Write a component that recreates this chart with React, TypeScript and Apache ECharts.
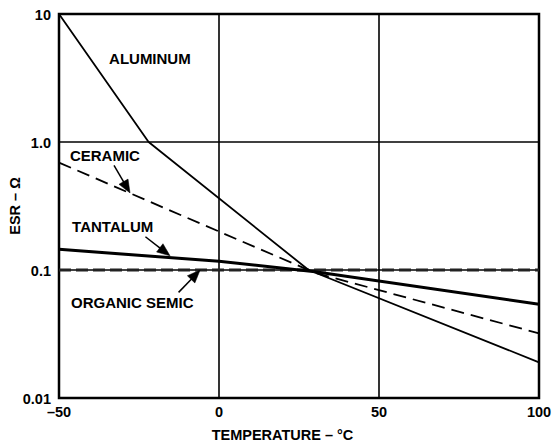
import React, { useEffect, useRef } from "react";
import * as echarts from "echarts";

// Data (temperature in °C, ESR in Ω)
const aluminumX = [-50, -22, 28, 100];
const aluminumY = [10, 1.0, 0.1, 0.019];
const ceramicX = [-50, 30, 100];
const ceramicY = [0.69, 0.095, 0.032];
const tantalumX = [-50, 0, 30, 100];
const tantalumY = [0.145, 0.117, 0.097, 0.054];
const organicX = [-50, 100];
const organicY = [0.1, 0.1];

const xMin = -50;
const xMax = 100;
const xInterval = 50;
const yMin = 0.01;
const yMax = 10;
const yTickValues = [10, 1, 0.1, 0.01];
const yTickLabels = ["10", "1.0", "0.1", "0.01"];

// Annotation labels and arrows, in data coordinates
const labelTexts = ["ALUMINUM", "CERAMIC", "TANTALUM", "ORGANIC SEMIC"];
const labelX = [-21.6, -46.6, -45.9, -46.25];
const labelY = [4.53, 0.79, 0.217, 0.0555];
const labelAlign = ["center", "left", "left", "left"];

const arrowFromX = [-32.5, -22.5, -12.2];
const arrowFromY = [0.638, 0.178, 0.0686];
const arrowToX = [-27.8, -15.3, -5.9];
const arrowToY = [0.4, 0.129, 0.1];

const FONT = 'Arial, "Liberation Sans", sans-serif';

function zip(xs: number[], ys: number[]) {
  return xs.map((x, i) => [x, ys[i]]);
}

export default function App() {
  const ref = useRef<HTMLDivElement>(null);

  useEffect(() => {
    document.body.style.margin = "0";
    if (!ref.current) return;
    const chart = echarts.init(ref.current, undefined, { renderer: "svg" });

    const option: any = {
      animation: false,
      backgroundColor: "#fff",
      grid: {
        left: 59,
        top: 14,
        width: 480,
        height: 384,
        show: true,
        borderColor: "#000",
        borderWidth: 2.5,
        containLabel: false,
        outerBoundsMode: "none",
      },
      xAxis: {
        type: "value",
        min: xMin,
        max: xMax,
        interval: xInterval,
        name: "TEMPERATURE – °C",
        nameLocation: "middle",
        nameGap: 29,
        nameTextStyle: {
          fontFamily: FONT,
          fontWeight: "bold",
          fontSize: 14.5,
          color: "#000",
          padding: [0, 33, 0, 0],
        },
        axisLine: { show: false },
        axisTick: { show: false },
        axisLabel: {
          fontFamily: FONT,
          fontWeight: "bold",
          fontSize: 14.5,
          color: "#000",
          margin: 6,
          formatter: (v: number) => String(v).replace("-", "–"),
        },
        splitLine: { show: true, lineStyle: { color: "#000", width: 1.6 } },
      },
      yAxis: {
        type: "log",
        logBase: 10,
        min: yMin,
        max: yMax,
        axisLine: { show: false },
        axisTick: { show: false },
        axisLabel: { show: false },
        splitLine: { show: true, lineStyle: { color: "#000", width: 1.6 } },
      },
      series: [
        {
          name: "ORGANIC SEMIC",
          type: "line",
          data: zip(organicX, organicY),
          symbol: "none",
          lineStyle: { color: "#222", width: 2.8, type: [12, 5] },
          z: 3,
        },
        {
          name: "ALUMINUM",
          type: "line",
          data: zip(aluminumX, aluminumY),
          symbol: "none",
          lineStyle: { color: "#000", width: 1.8 },
          z: 4,
        },
        {
          name: "CERAMIC",
          type: "line",
          data: zip(ceramicX, ceramicY),
          symbol: "none",
          lineStyle: { color: "#000", width: 1.8, type: [13, 7] },
          z: 4,
        },
        {
          name: "TANTALUM",
          type: "line",
          data: zip(tantalumX, tantalumY),
          symbol: "none",
          lineStyle: { color: "#000", width: 3 },
          z: 4,
        },
      ],
    };

    chart.setOption(option);

    const graphics: any[] = [];
    const origin = chart.convertToPixel({ gridIndex: 0 }, [xMin, yMin]) as number[];
    const topRight = chart.convertToPixel({ gridIndex: 0 }, [xMax, yMax]) as number[];

    // y tick labels, placed through the log axis
    yTickValues.forEach((v, i) => {
      const p = chart.convertToPixel({ gridIndex: 0 }, [xMin, v]) as number[];
      graphics.push({
        type: "text",
        x: p[0] - 8,
        y: p[1] + 1,
        z: 10,
        style: {
          text: yTickLabels[i],
          font: `bold 14.5px ${FONT}`,
          fill: "#000",
          align: "right",
          verticalAlign: "middle",
        },
      });
    });
    // y axis name
    graphics.push({
      type: "text",
      x: 15,
      y: (origin[1] + topRight[1]) / 2,
      rotation: Math.PI / 2,
      z: 10,
      style: {
        text: "ESR – Ω",
        font: `bold 14.5px ${FONT}`,
        fill: "#000",
        align: "center",
        verticalAlign: "middle",
      },
    });

    labelTexts.forEach((t, i) => {
      const p = chart.convertToPixel({ gridIndex: 0 }, [labelX[i], labelY[i]]) as number[];
      graphics.push({
        type: "text",
        x: p[0],
        y: p[1],
        z: 10,
        style: {
          text: t,
          font: `bold 15px ${FONT}`,
          fill: "#000",
          align: labelAlign[i],
          verticalAlign: "middle",
        },
      });
    });
    arrowFromX.forEach((_, i) => {
      const a = chart.convertToPixel({ gridIndex: 0 }, [arrowFromX[i], arrowFromY[i]]) as number[];
      const b = chart.convertToPixel({ gridIndex: 0 }, [arrowToX[i], arrowToY[i]]) as number[];
      const dx = b[0] - a[0];
      const dy = b[1] - a[1];
      const len = Math.sqrt(dx * dx + dy * dy);
      const ux = dx / len;
      const uy = dy / len;
      const headLen = 13;
      const headW = 5.2;
      const bx = b[0] - ux * headLen;
      const by = b[1] - uy * headLen;
      graphics.push({
        type: "line",
        z: 10,
        shape: { x1: a[0] - ux * 2, y1: a[1] - uy * 2, x2: bx + ux * 2, y2: by + uy * 2 },
        style: { stroke: "#000", lineWidth: 1.5 },
      });
      graphics.push({
        type: "polygon",
        z: 10,
        shape: {
          points: [
            [b[0], b[1]],
            [bx - uy * headW, by + ux * headW],
            [bx + uy * headW, by - ux * headW],
          ],
        },
        style: { fill: "#000", stroke: "#000", lineWidth: 0.5 },
      });
    });
    chart.setOption({ graphic: graphics });

    return () => {
      chart.dispose();
    };
  }, []);

  return <div ref={ref} style={{ width: 554, height: 443 }} />;
}
